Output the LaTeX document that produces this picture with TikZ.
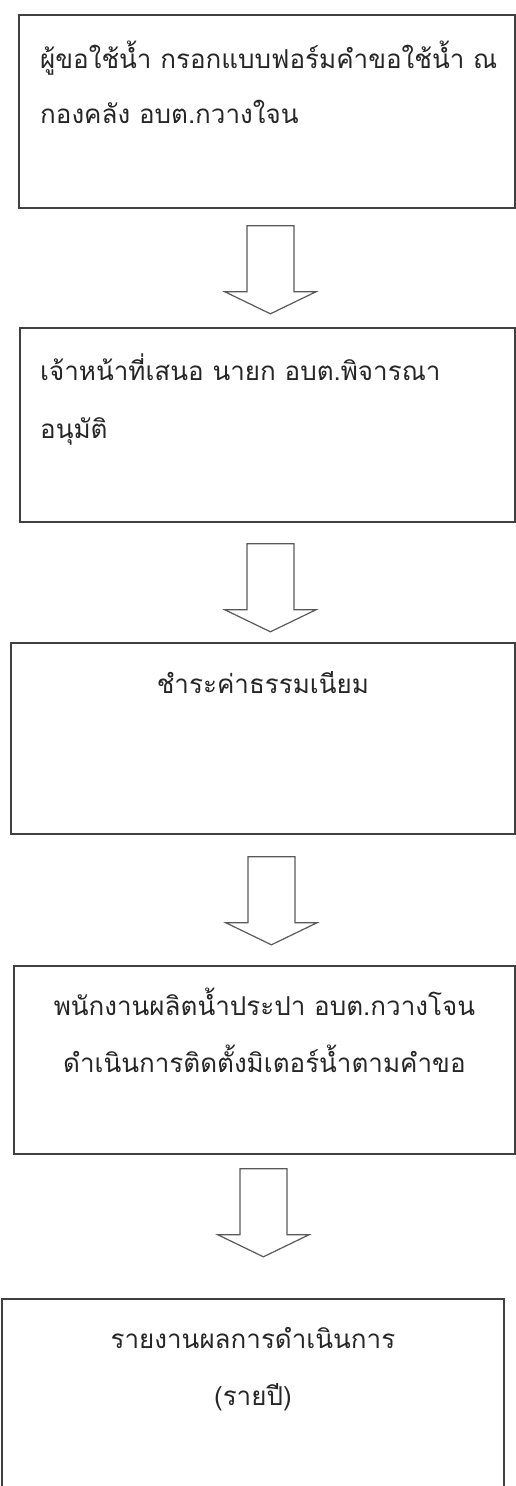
\documentclass[tikz,border=0pt]{standalone}
\usepackage{fontspec}
\newfontfamily\thaifont[Script=Thai]{Loma}
\usetikzlibrary{positioning,calc}

\begin{document}
\begin{tikzpicture}[x=1pt,y=-1pt,
    stepbox/.style={draw=black!75, line width=1.8pt, anchor=north west, inner sep=0pt},
    steptext/.style={font=\thaifont\fontsize{26}{30}\selectfont, text=black!85, inner sep=0pt},
    blockarrow/.style={draw=black!65, line width=1.2pt}]
    \useasboundingbox (0,0) rectangle (515,1486);
    % boxes
    \node[stepbox, minimum width=496pt, minimum height=193pt] (B1) at (18,14) {};
    \node[stepbox, minimum width=495pt, minimum height=194pt] (B2) at (19,327) {};
    \node[stepbox, minimum width=504pt, minimum height=191pt] (B3) at (10,642) {};
    \node[stepbox, minimum width=501pt, minimum height=188pt] (B4) at (13,965) {};
    \node[stepbox, minimum width=502pt, minimum height=200pt] (B5) at (1,1298) {};
    % texts
    \node[steptext, anchor=base west] (T1a) at ($(B1.north west)+(22,54)$) {ผู้ขอใช้น้ำ กรอกแบบฟอร์มคำขอใช้น้ำ ณ};
    \node[steptext, anchor=base west] (T1b) at ($(B1.north west)+(22,109)$) {กองคลัง อบต.กวางใจน};
    \node[steptext, anchor=base west] (T2a) at ($(B2.north west)+(21,53)$) {เจ้าหน้าที่เสนอ นายก อบต.พิจารณา};
    \node[steptext, anchor=base west] (T2b) at ($(B2.north west)+(21,111)$) {อนุมัติ};
    \node[steptext, anchor=base] (T3) at ($(B3.north)+(0,51)$) {ชำระค่าธรรมเนียม};
    \node[steptext, anchor=base] (T4a) at ($(B4.north)+(0,50)$) {พนักงานผลิตน้ำประปา อบต.กวางโจน};
    \node[steptext, anchor=base] (T4b) at ($(B4.north)+(0,107)$) {ดำเนินการติดตั้งมิเตอร์น้ำตามคำขอ};
    \node[steptext, anchor=base] (T5a) at ($(B5.north)+(0,50)$) {รายงานผลการดำเนินการ};
    \node[steptext, anchor=base] (T5b) at ($(B5.north)+(0,107)$) {(รายปี)};
    % arrows
    \coordinate (A1) at ($(B1.south)+(3.5,17)$);
    \coordinate (A2) at ($(B2.south)+(3,21)$);
    \coordinate (A3) at ($(B3.south)+(8.5,22)$);
    \coordinate (A4) at ($(B4.south)+(-1,14)$);
    \foreach \a in {A1,A2,A3,A4}
        \draw[blockarrow] (\a) ++(-23.5,0) -- ++(47,0) -- ++(0,66) -- ++(22,0) -- ++(-45.5,22) -- ++(-45.5,-22) -- ++(22,0) -- cycle;
\end{tikzpicture}
\end{document}
